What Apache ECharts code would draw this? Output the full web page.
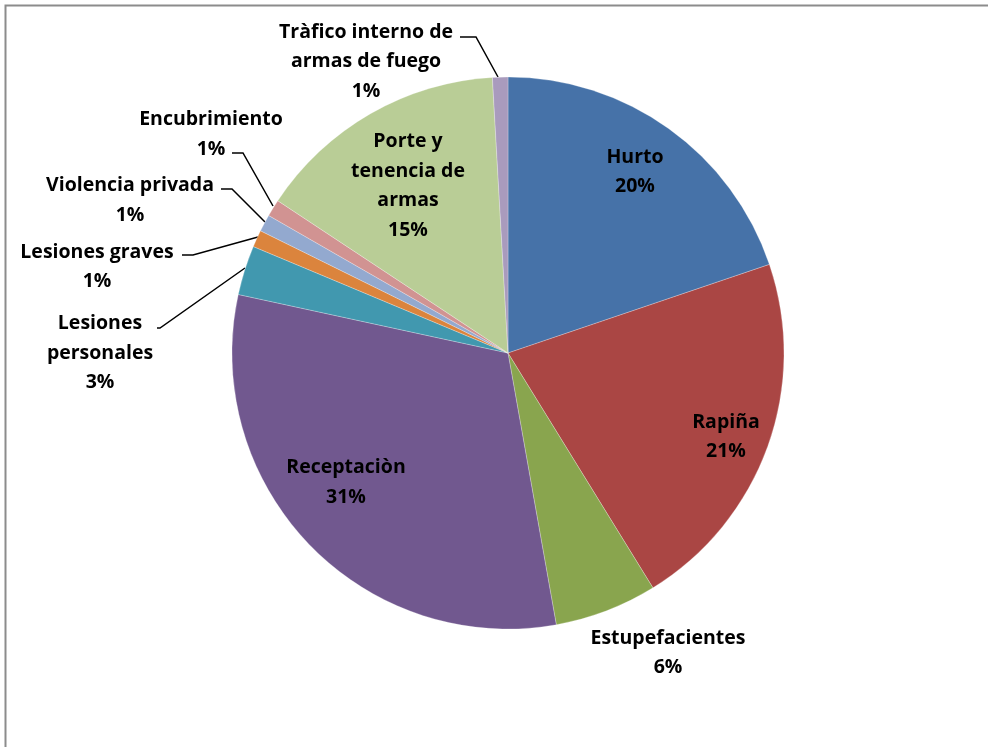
<!DOCTYPE html>
<html><head><meta charset="utf-8">
<script src="https://cdn.jsdelivr.net/npm/echarts@6/dist/echarts.min.js"></script>
<style>html,body{margin:0;padding:0;background:#fff}#c{width:988px;height:747px}</style>
</head><body><div id="c"></div>
<script>
const categories = ["Hurto","Rapiña","Estupefacientes","Receptaciòn","Lesiones\npersonales","Lesiones graves","Violencia privada","Encubrimiento","Porte y\ntenencia de\narmas","Tràfico interno de\narmas de fuego"];
const values = [19.8, 21.4, 6.0, 31.2, 2.9, 1.0, 1.0, 1.0, 14.8, 0.9];
const colors = ["#4672A8","#AA4644","#89A54E","#71588F","#4198AF","#DB843D","#93A9CF","#D19392","#B9CD96","#A99BBD"];
const pctLabels = ["20%","21%","6%","31%","3%","1%","1%","1%","15%","1%"];

// label anchor centers and leader lines (layout only)
const labelPos = [
  [635,172],[726,437],[668,653],[346,482.5],[100,353],[97,267],[130,200.5],[211,134.5],[408,186],[366,61.5]
];
const leader = {
  4: [[157,328],[160,328],[245,268]],
  5: [[182,255],[193,255],[258,237]],
  6: [[221,189],[232,189],[265,222]],
  7: [[232,153],[243,153],[273,206]],
  9: [[460,37],[476,37],[498,77]]
};

const chart = echarts.init(document.getElementById('c'));
chart.setOption({
  animation: false,
  graphic: [{type:'rect', shape:{x:5.5,y:5.5,width:1100,height:900}, style:{fill:'none', stroke:'#8c8c8c', lineWidth:2}, silent:true}],
  series: [{
    type: 'pie',
    center: [508, 353],
    radius: 276,
    startAngle: 90,
    clockwise: true,
    avoidLabelOverlap: false,
    data: categories.map((c,i)=>({name:c, value:values[i], itemStyle:{color:colors[i]},
      labelLine:{show: !!leader[i]}})),
    itemStyle: {borderColor:'rgba(255,255,255,0.5)', borderWidth:0.5},
    label: {
      show: true,
      position: 'outside',
      formatter: p => p.name + '\n' + pctLabels[p.dataIndex],
      fontFamily: '"Open Sans", sans-serif',
      fontWeight: 'bold',
      fontSize: 19.5,
      lineHeight: 29.5,
      color: '#000',
      align: 'center'
    },
    labelLine: {show:true, lineStyle:{color:'#000', width:1.5}, length:10, length2:10},
    labelLayout: function(params){
      const i = params.dataIndex;
      const r = {x: labelPos[i][0], y: labelPos[i][1], align:'center', verticalAlign:'middle'};
      if (leader[i]) r.labelLinePoints = leader[i];
      return r;
    }
  }]
});
</script>
</body></html>
